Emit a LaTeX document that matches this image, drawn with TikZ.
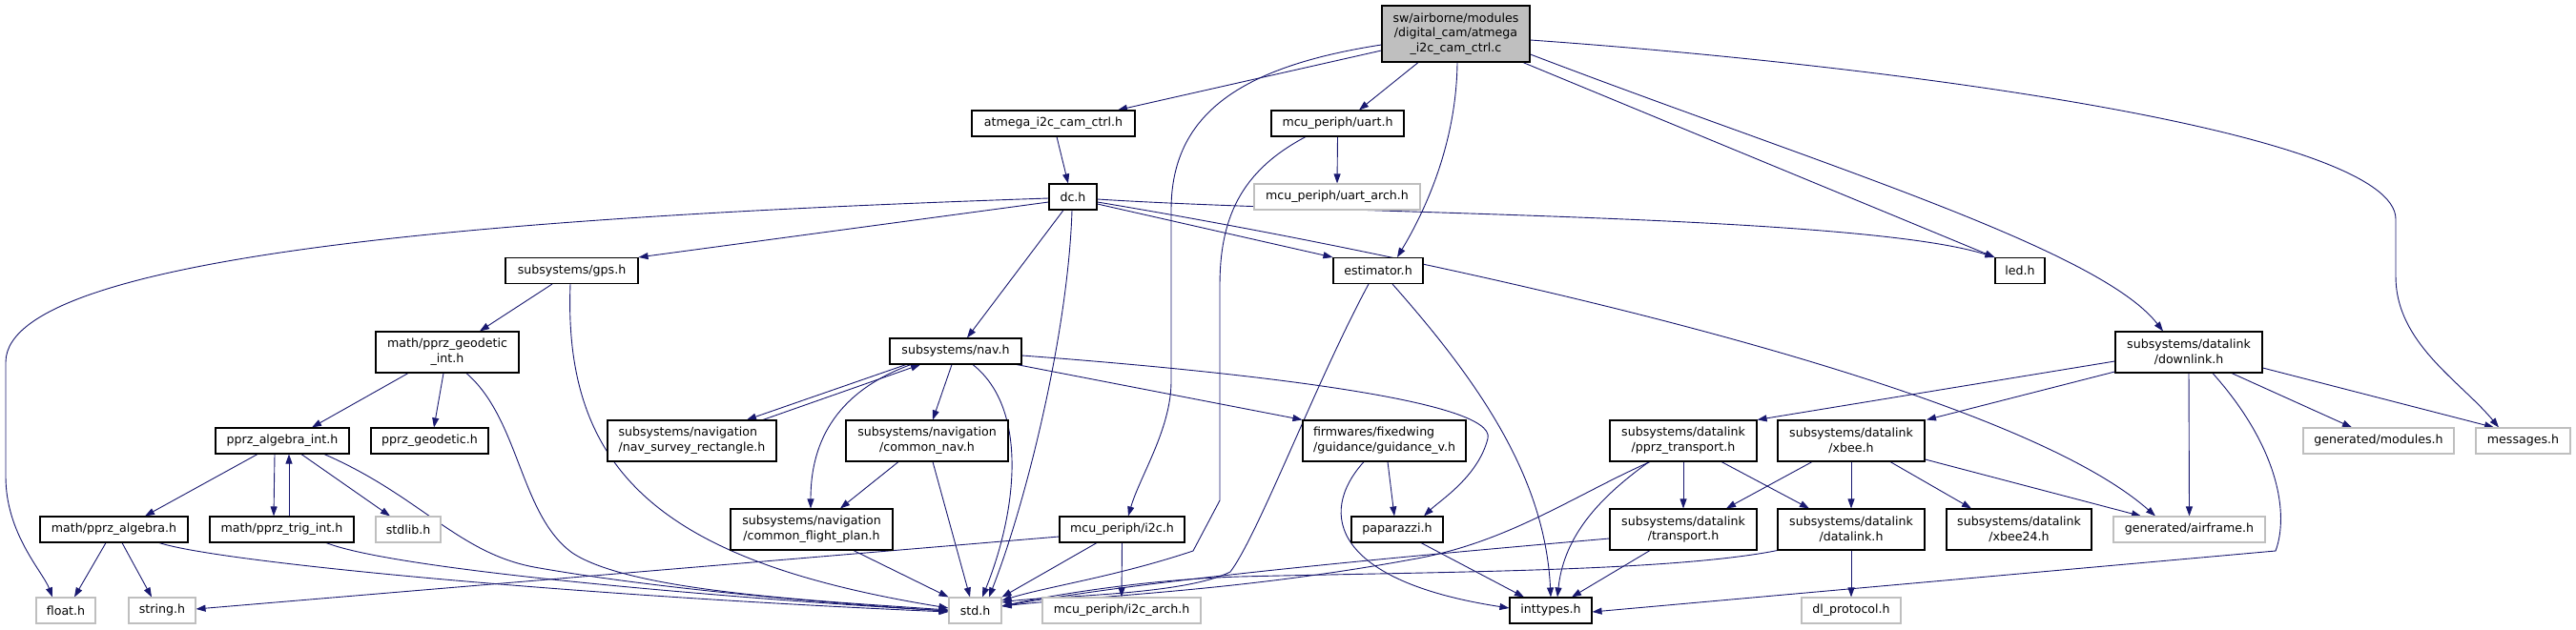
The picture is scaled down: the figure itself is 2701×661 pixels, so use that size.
\documentclass[tikz,border=0pt]{standalone}
\usepackage{fontspec}
\setmainfont{DejaVu Sans}
\usetikzlibrary{arrows.meta,calc}
\definecolor{dgblue}{HTML}{191970}
\definecolor{dggray}{HTML}{BFBFBF}
\newcommand\dgfont{\fontsize{12.6}{15.7}\selectfont}
\pgfdeclarelayer{bg}
\pgfsetlayers{bg,main}
\tikzset{
  box/.style={draw=black, line width=1.1pt, fill=white, inner sep=0pt, align=center, font=\dgfont},
  gbox/.style={box, draw=dggray},
  mbox/.style={box, fill=dggray},
  sz/.style 2 args={minimum width=#1pt, minimum height=#2pt},
  dep/.style={draw=dgblue, line width=0.9pt, -{Triangle[length=10pt,width=7pt]}}
}
\begin{document}
\begin{tikzpicture}[x=1pt,y=-1pt]
\useasboundingbox (0,0) rectangle (2701,661);
% nodes
\node[mbox, sz={155}{59}] (main) at (1526.5,35.5) {sw/airborne/modules\\/digital\_cam/atmega\\\_i2c\_cam\_ctrl.c};
\node[box, sz={171}{27}] (atmega) at (1104.5,129.5) {atmega\_i2c\_cam\_ctrl.h};
\node[box, sz={139}{27}] (uart) at (1402.5,129.5) {mcu\_periph/uart.h};
\node[box, sz={50}{27}] (dc) at (1125,206.5) {dc.h};
\node[gbox, sz={174}{27}] (uartarch) at (1402,206.5) {mcu\_periph/uart\_arch.h};
\node[box, sz={139}{27}] (gps) at (599.5,284) {subsystems/gps.h};
\node[box, sz={94}{27}] (estimator) at (1445,284) {estimator.h};
\node[box, sz={52}{27}] (led) at (2118,284) {led.h};
\node[box, sz={150}{43}] (geoint) at (469,369.5) {math/pprz\_geodetic\\\_int.h};
\node[box, sz={138}{27}] (nav) at (1002,368.5) {subsystems/nav.h};
\node[box, sz={154}{43}] (downlink) at (2295,369.5) {subsystems/datalink\\/downlink.h};
\node[box, sz={140}{27}] (algint) at (296,462.5) {pprz\_algebra\_int.h};
\node[box, sz={123}{27}] (geodetic) at (450.5,462.5) {pprz\_geodetic.h};
\node[box, sz={177}{43}, align=left] (survey) at (725.5,462.5) {subsystems/navigation\\/nav\_survey\_rectangle.h};
\node[box, sz={170}{43}] (commonnav) at (972,462.5) {subsystems/navigation\\/common\_nav.h};
\node[box, sz={171}{43}, align=left] (guidance) at (1451.5,462.5) {firmwares/fixedwing\\/guidance/guidance\_v.h};
\node[box, sz={154}{43}] (pprztr) at (1765,462.5) {subsystems/datalink\\/pprz\_transport.h};
\node[box, sz={154}{43}] (xbee) at (1941,462.5) {subsystems/datalink\\/xbee.h};
\node[gbox, sz={158}{27}] (modules) at (2494,462.5) {generated/modules.h};
\node[gbox, sz={99}{27}] (messages) at (2645.5,462.5) {messages.h};
\node[box, sz={155}{27}] (alg) at (119.5,555.5) {math/pprz\_algebra.h};
\node[box, sz={151}{27}] (trig) at (295.5,555.5) {math/pprz\_trig\_int.h};
\node[gbox, sz={68}{27}] (stdlib) at (428,555.5) {stdlib.h};
\node[box, sz={170}{43}] (cfp) at (851,555.5) {subsystems/navigation\\/common\_flight\_plan.h};
\node[box, sz={131}{27}] (i2c) at (1176.5,555.5) {mcu\_periph/i2c.h};
\node[box, sz={96}{27}] (paparazzi) at (1465,555.5) {paparazzi.h};
\node[box, sz={154}{43}] (transport) at (1765,555.5) {subsystems/datalink\\/transport.h};
\node[box, sz={154}{43}] (datalink) at (1941,555.5) {subsystems/datalink\\/datalink.h};
\node[box, sz={152}{43}] (xbee24) at (2117,555.5) {subsystems/datalink\\/xbee24.h};
\node[gbox, sz={159}{27}] (airframe) at (2295.5,555.5) {generated/airframe.h};
\node[gbox, sz={62}{27}] (float) at (69,640.5) {float.h};
\node[gbox, sz={70}{27}] (string) at (170,640.5) {string.h};
\node[gbox, sz={55}{27}] (std) at (1022.5,640.5) {std.h};
\node[gbox, sz={166}{27}] (i2carch) at (1176,640.5) {mcu\_periph/i2c\_arch.h};
\node[box, sz={86}{27}] (inttypes) at (1626,640.5) {inttypes.h};
\node[gbox, sz={104}{27}] (dlproto) at (1941,640.5) {dl\_protocol.h};
% edges
\begin{pgfonlayer}{bg}
\fill[white] (0,0) rectangle (2701,661);
% main
\draw[dep] (main.west |- 0,53) -- (atmega.north -| 1172,0);
\draw[dep] (main.south -| 1487,0) -- (uart.north -| 1425,0);
\draw[dep] (main.south -| 1528,0) .. controls (1527,150) and (1495,220) .. (estimator.north -| 1465,0);
\draw[dep] (main.west |- 0,47) .. controls (1300,70) and (1228,120) .. (1228,220) -- (1228,400) .. controls (1228,450) and (1195,500) .. (i2c.north -| 1183,0);
\draw[dep] (main.south -| 1597,0) -- (led.north west);
\draw[dep] (main.east |- 0,57) .. controls (1900,170) and (2200,260) .. (downlink.north -| 2268,0);
\draw[dep] (main.east |- 0,42) .. controls (2000,70) and (2512,140) .. (2512,230) -- (2512,290) .. controls (2512,360) and (2580,400) .. (messages.north -| 2620,0);
\draw[dep] (atmega.south -| 1108,0) -- (dc.north -| 1120,0);
% dc
\draw[dep] (dc.west |- 0,208) .. controls (600,225) and (6,260) .. (6,380) -- (6,500) .. controls (6,560) and (45,600) .. (float.north -| 55,0);
\draw[dep] (dc.west |- 0,212) -- (gps.north east);
\draw[dep] (dc.south -| 1115,0) -- (nav.north -| 1014,0);
\draw[dep] (dc.south -| 1124,0) .. controls (1120,350) and (1075,530) .. (std.north -| 1037,0);
\draw[dep] (dc.east |- 0,214) -- (estimator.north west);
\draw[dep] (dc.east |- 0,209) .. controls (1400,225) and (1950,225) .. (led.north west);
\draw[dep] (dc.east |- 0,212) .. controls (1500,270) and (2100,400) .. (airframe.north -| 2260,0);
% gps
\draw[dep] (gps.south -| 579,0) -- (geoint.north -| 503,0);
\draw[dep] (gps.south -| 598,0) .. controls (590,500) and (700,590) .. (std.west |- 0,638);
% geodetic int
\draw[dep] (geoint.south -| 428,0) -- (algint.north -| 327,0);
\draw[dep] (geoint.south -| 465,0) -- (geodetic.north -| 455,0);
\draw[dep] (geoint.south -| 489,0) .. controls (545,440) and (545,540) .. (600,580) .. controls (660,620) and (850,630) .. (std.west |- 0,640);
% algebra int
\draw[dep] (algint.south -| 270,0) -- (alg.north -| 152,0);
\draw[dep] (algint.south -| 288,0) -- (trig.north -| 287,0);
\draw[dep] (trig.north -| 303,0) -- (algint.south -| 303,0);
\draw[dep] (algint.south -| 316,0) -- (stdlib.north -| 409,0);
\draw[dep] (algint.south -| 340,0) .. controls (440,520) and (480,580) .. (560,595) .. controls (700,620) and (900,635) .. (std.west |- 0,641);
\draw[dep] (trig.south -| 342,0) .. controls (420,600) and (800,630) .. (std.west |- 0,641);
% algebra
\draw[dep] (alg.south -| 111,0) -- (float.north -| 78,0);
\draw[dep] (alg.south -| 128,0) -- (string.north -| 159,0);
\draw[dep] (alg.south -| 167,0) .. controls (230,590) and (600,625) .. (std.west |- 0,642);
% nav
\draw[dep] (nav.south -| 950,0) -- (survey.north -| 783,0);
\draw[dep] (survey.north -| 800,0) -- (nav.south -| 965,0);
\draw[dep] (nav.south -| 955,0) .. controls (880,410) and (850,460) .. (cfp.north -| 850,0);
\draw[dep] (nav.south -| 998,0) -- (commonnav.north -| 978,0);
\draw[dep] (nav.south -| 1020,0) .. controls (1080,430) and (1065,540) .. (std.north -| 1030,0);
\draw[dep] (nav.south -| 1066,0) -- (guidance.north west);
\draw[dep] (nav.east |- 0,373) .. controls (1300,390) and (1570,420) .. (1560,460) .. controls (1550,500) and (1510,525) .. (paparazzi.north -| 1493,0);
\draw[dep] (commonnav.south -| 942,0) -- (cfp.north -| 881,0);
\draw[dep] (commonnav.south -| 978,0) -- (std.north -| 1017,0);
\draw[dep] (cfp.south -| 895,0) -- (std.north west);
% guidance, paparazzi
\draw[dep] (guidance.south -| 1455,0) -- (paparazzi.north -| 1462,0);
\draw[dep] (guidance.south -| 1430,0) .. controls (1380,540) and (1400,610) .. (inttypes.west |- 0,638);
\draw[dep] (paparazzi.south -| 1490,0) -- (inttypes.north -| 1598,0);
% i2c
\draw[dep] (i2c.west |- 0,563) -- (string.east |- 0,639);
\draw[dep] (i2c.south -| 1150,0) -- (std.north east);
\draw[dep] (i2c.south) -- (i2carch.north);
% estimator
\draw[dep] (estimator.south -| 1435,0) .. controls (1380,400) and (1320,560) .. (1290,600) .. controls (1240,625) and (1100,625) .. (std.east |- 0,632);
\draw[dep] (estimator.south -| 1460,0) .. controls (1550,400) and (1620,500) .. (inttypes.north -| 1626,0);
% uart
\draw[dep] (uart.south -| 1369,0) .. controls (1300,180) and (1279,230) .. (1279,300) -- (1279,525) -- (1251,578) .. controls (1170,605) and (1100,615) .. (std.east |- 0,630);
\draw[dep] (uart.south) -- (uartarch.north);
% pprz transport
\draw[dep] (pprztr.south) -- (transport.north);
\draw[dep] (pprztr.south -| 1730,0) .. controls (1650,520) and (1580,570) .. (1480,587) .. controls (1300,620) and (1150,625) .. (std.east |- 0,636);
\draw[dep] (pprztr.south -| 1729,0) .. controls (1680,520) and (1640,560) .. (inttypes.north -| 1633,0);
\draw[dep] (pprztr.south -| 1805,0) -- (datalink.north -| 1897,0);
% xbee
\draw[dep] (xbee.south -| 1900,0) -- (transport.north -| 1810,0);
\draw[dep] (xbee.south) -- (datalink.north);
\draw[dep] (xbee.south -| 1982,0) -- (xbee24.north -| 2067,0);
\draw[dep] (xbee.east |- 0,482) -- (airframe.north -| 2245,0);
% transport, datalink
\draw[dep] (transport.west |- 0,565) .. controls (1400,590) and (1200,610) .. (std.east |- 0,636);
\draw[dep] (transport.south -| 1730,0) -- (inttypes.north -| 1648,0);
\draw[dep] (datalink.south west) .. controls (1750,600) and (1500,600) .. (1300,605) .. controls (1200,608) and (1100,625) .. (std.east |- 0,636);
\draw[dep] (datalink.south) -- (dlproto.north);
% downlink
\draw[dep] (downlink.west |- 0,379) -- (pprztr.north east);
\draw[dep] (downlink.west |- 0,390) -- (xbee.north -| 2020,0);
\draw[dep] (downlink.south) -- (airframe.north);
\draw[dep] (downlink.south -| 2340,0) -- (modules.north -| 2466,0);
\draw[dep] (downlink.east |- 0,386) -- (messages.north -| 2615,0);
\draw[dep] (downlink.south -| 2320,0) .. controls (2390,470) and (2400,540) .. (2386,578) -- (inttypes.east |- 0,642);
\end{pgfonlayer}
\end{tikzpicture}
\end{document}
